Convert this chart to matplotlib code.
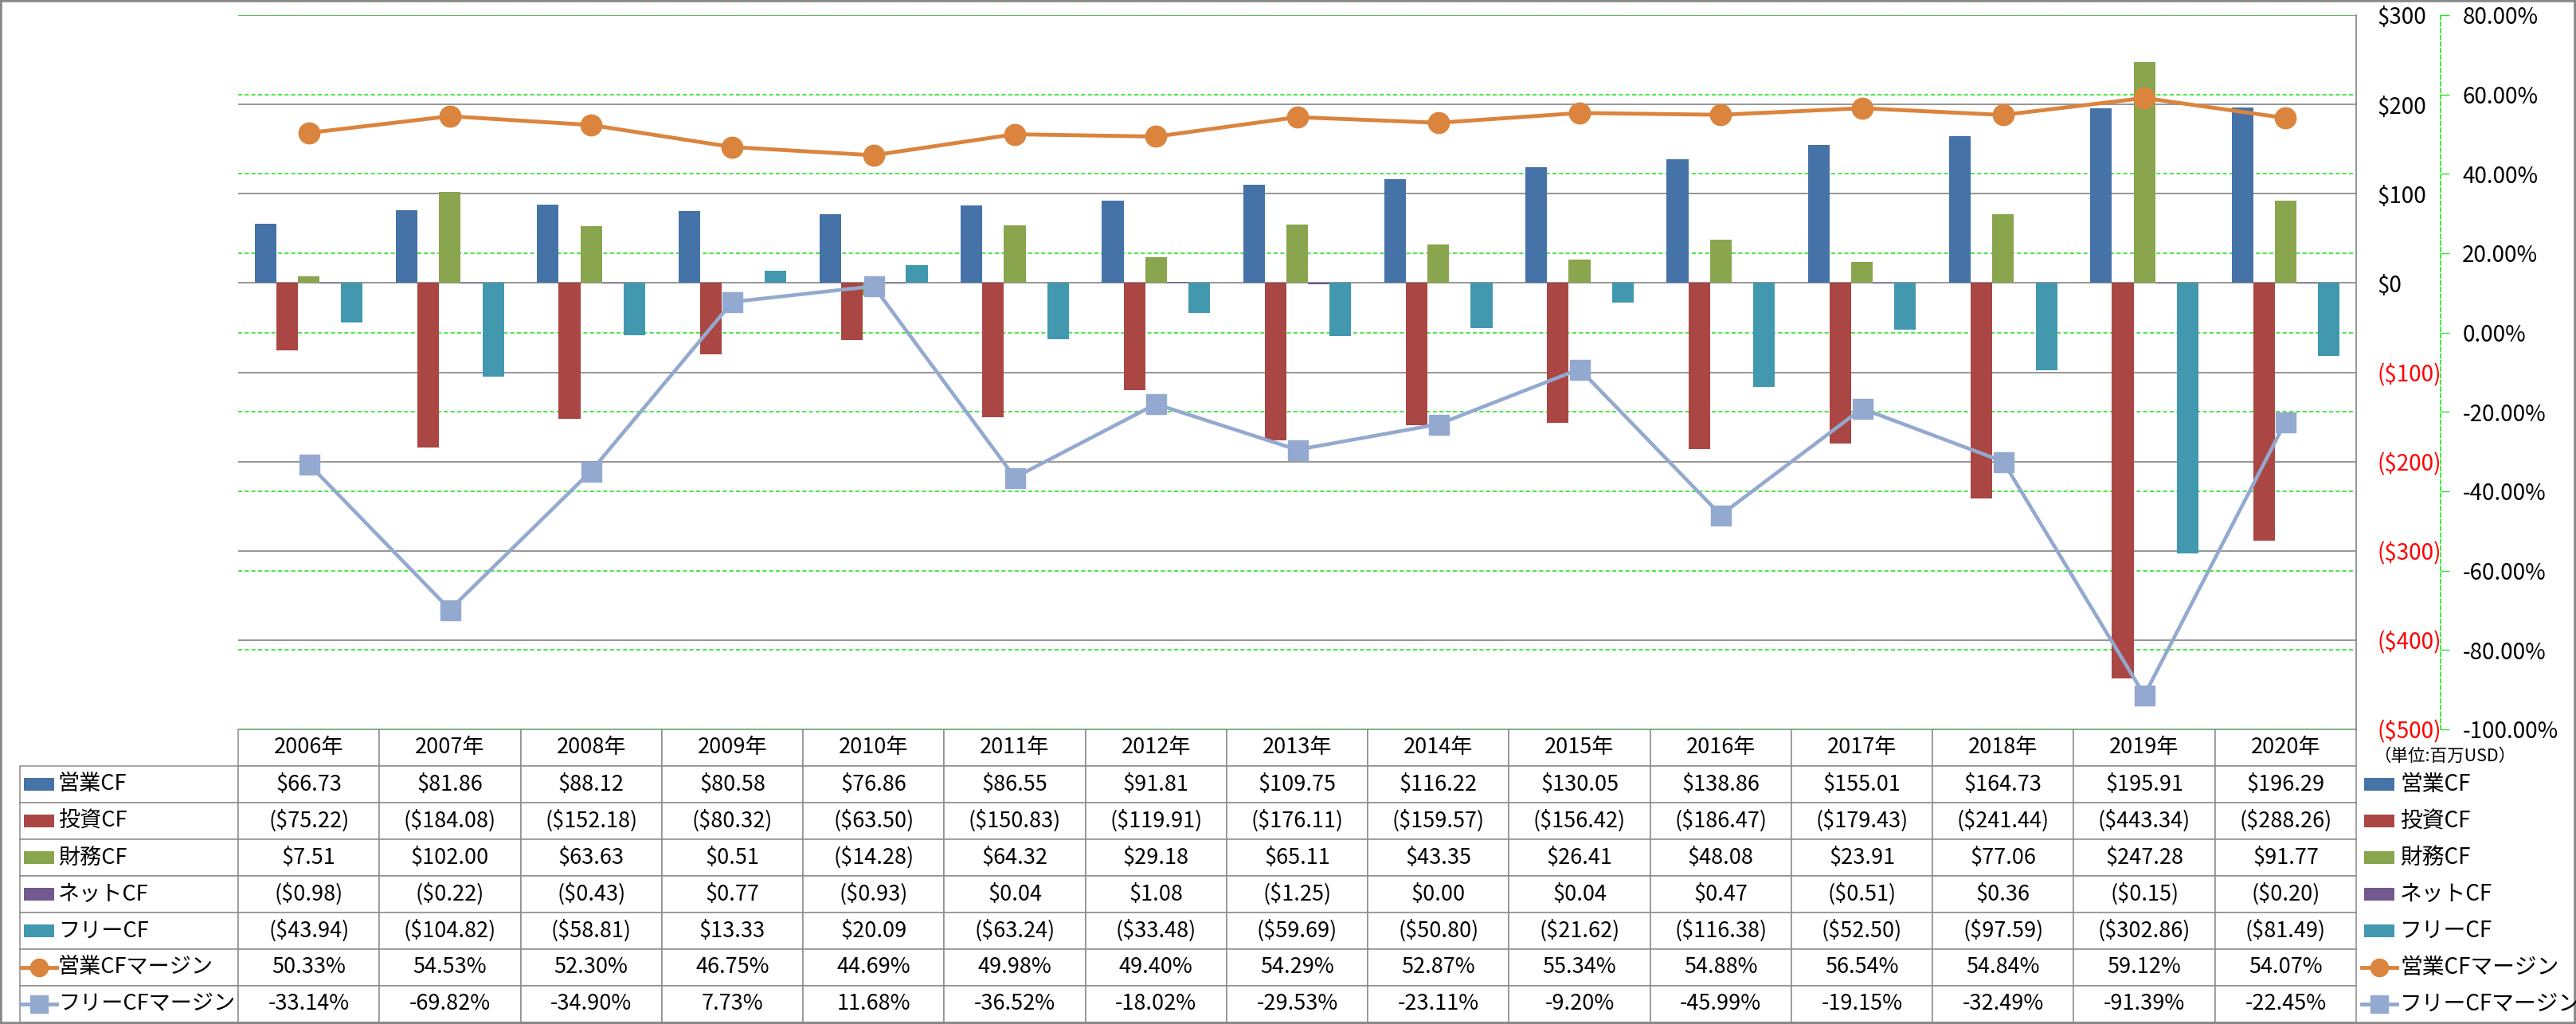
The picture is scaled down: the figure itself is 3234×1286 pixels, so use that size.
import matplotlib
matplotlib.use("Agg")
import matplotlib.pyplot as plt
import numpy as np
from matplotlib.patches import Rectangle
from matplotlib.lines import Line2D
from matplotlib.table import Table
from matplotlib import transforms

plt.rcParams['font.family'] = ['Noto Sans CJK JP', 'DejaVu Sans']

years = ["2006年", "2007年", "2008年", "2009年", "2010年", "2011年", "2012年", "2013年",
         "2014年", "2015年", "2016年", "2017年", "2018年", "2019年", "2020年"]
op_cf = [66.73, 81.86, 88.12, 80.58, 76.86, 86.55, 91.81, 109.75, 116.22, 130.05,
         138.86, 155.01, 164.73, 195.91, 196.29]
inv_cf = [-75.22, -184.08, -152.18, -80.32, -63.50, -150.83, -119.91, -176.11, -159.57,
          -156.42, -186.47, -179.43, -241.44, -443.34, -288.26]
fin_cf = [7.51, 102.00, 63.63, 0.51, -14.28, 64.32, 29.18, 65.11, 43.35, 26.41, 48.08,
          23.91, 77.06, 247.28, 91.77]
net_cf = [-0.98, -0.22, -0.43, 0.77, -0.93, 0.04, 1.08, -1.25, 0.00, 0.04, 0.47, -0.51,
          0.36, -0.15, -0.20]
free_cf = [-43.94, -104.82, -58.81, 13.33, 20.09, -63.24, -33.48, -59.69, -50.80, -21.62,
           -116.38, -52.50, -97.59, -302.86, -81.49]
op_margin = [50.33, 54.53, 52.30, 46.75, 44.69, 49.98, 49.40, 54.29, 52.87, 55.34, 54.88,
             56.54, 54.84, 59.12, 54.07]
free_margin = [-33.14, -69.82, -34.90, 7.73, 11.68, -36.52, -18.02, -29.53, -23.11, -9.20,
               -45.99, -19.15, -32.49, -91.39, -22.45]

bar_names = ["営業CF", "投資CF", "財務CF", "ネットCF", "フリーCF"]
line_names = ["営業CFマージン", "フリーCFマージン"]
bar_colors = ["#4572A7", "#AA4643", "#89A54E", "#71588F", "#4198AF"]
line_colors = ["#DB843D", "#93A9CF"]
green = "#22E622"
gray = "#8C8C8C"

W, H = 3234, 1286
fig = plt.figure(figsize=(W / 100, H / 100), dpi=100)
fig.patch.set_facecolor("white")

L, T, R, B = 299, 19, 2958, 916
ax = fig.add_axes([L / W, 1 - B / H, (R - L) / W, (B - T) / H])
ax2 = ax.twinx()

x = np.arange(len(years))
bw = 0.153
for i, (vals, c) in enumerate(zip([op_cf, inv_cf, fin_cf, net_cf, free_cf], bar_colors)):
    ax.bar(x + (i - 2) * bw, vals, bw, color=c, zorder=2, linewidth=0)

ax.set_xlim(-0.5, len(years) - 0.5)
ax.set_ylim(-500, 300)
pticks = list(range(-500, 301, 100))
ax.set_yticks(pticks, labels=[f"${v}" if v >= 0 else f"(${-v})" for v in pticks])
ax.yaxis.tick_right()
ax.tick_params(axis='y', length=0, pad=19, labelsize=20)
ax.set_xticks([])
for t, v in zip(ax.yaxis.get_major_ticks(), pticks):
    t.label2.set_color("red" if v < 0 else "black")
ax.yaxis.grid(True, color=gray, lw=1.3)
ax.set_axisbelow(True)
for s in ["left", "top", "bottom"]:
    ax.spines[s].set_visible(False)
ax.spines["right"].set_color(gray)
ax.spines["right"].set_linewidth(1.3)

ax2.set_ylim(-100, 80)
sticks = list(range(-100, 81, 20))
ax2.set_yticks(sticks, labels=[f"{v:.2f}%" for v in sticks])
ax2.tick_params(axis='y', length=8, width=1, color=green, pad=12, labelsize=20)
for t, v in zip(ax2.yaxis.get_major_ticks(), sticks):
    t.label2.set_color("red" if v < 0 else "black")
ax2.set_xticks([])
for s in ["left", "top", "bottom"]:
    ax2.spines[s].set_visible(False)
ax2.spines["right"].set_position(("outward", 76))
ax2.spines["right"].set_color(green)
ax2.spines["right"].set_linestyle((0, (3, 2)))
ax2.spines["right"].set_linewidth(1.2)

# secondary gridlines behind the bars
gtr = transforms.blended_transform_factory(ax.transAxes, ax2.transData)
for v in sticks:
    ax.plot([0, 1], [v, v], transform=gtr, color=green, lw=1.2,
            linestyle=(0, (3, 2)), zorder=1)

ax2.plot(x, op_margin, color=line_colors[0], lw=3.5, marker='o', ms=19, zorder=3)
ax2.plot(x, free_margin, color=line_colors[1], lw=3.3, marker='s', ms=18, zorder=3)

# data table
def money(v):
    return f"${v:,.2f}" if v >= 0 else f"(${-v:,.2f})"

rows = [op_cf, inv_cf, fin_cf, net_cf, free_cf]
row_texts = [[money(v) for v in r] for r in rows]
row_texts.append([f"{v:.2f}%" for v in op_margin])
row_texts.append([f"{v:.2f}%" for v in free_margin])
row_names = bar_names + line_names

lab_w = (L - 25) / (R - L)
tab_h = (1284 - B) / (B - T)
# bbox covers the year columns only; the label column sits to its left
tbl = Table(ax, bbox=[0, -tab_h, 1, tab_h])
rh = 1 / 8
for c, yr in enumerate(years):
    tbl.add_cell(0, c, width=1 / 15, height=rh, text=yr, loc='center')
for r, (name, vals) in enumerate(zip(row_names, row_texts), start=1):
    cell = tbl.add_cell(r, -1, width=lab_w, height=rh, text=name, loc='left')
    cell.PAD = 0.175
    for c, v in enumerate(vals):
        tbl.add_cell(r, c, width=1 / 15, height=rh, text=v, loc='center')
tbl.auto_set_font_size(False)
tbl.set_fontsize(19.5)
for cell in tbl.get_celld().values():
    cell.set_edgecolor(gray)
    cell.set_linewidth(1.1)
ax.add_table(tbl)

# legend keys (left in table, right as legend)
def fx(px):
    return px / W

def fy(py):
    return 1 - py / H

row_h = (1284 - B) / 8
for r, name in enumerate(row_names):
    yc = B + row_h * (r + 1.5)
    for x0, tx in [(30, None), (2968, 3013)]:
        if r < 5:
            fig.patches.append(Rectangle((fx(x0), fy(yc + 8)), fx(38), 16 / H,
                                         transform=fig.transFigure, color=bar_colors[r], lw=0))
        else:
            c = line_colors[r - 5]
            fig.add_artist(Line2D([fx(x0 - 3), fx(x0 + 41)], [fy(yc), fy(yc)],
                                  transform=fig.transFigure, color=c, lw=3.5))
            fig.add_artist(Line2D([fx(x0 + 19)], [fy(yc)], transform=fig.transFigure,
                                  color=c, marker='o' if r == 5 else 's', ms=16))
        if tx is not None:
            fig.text(fx(tx), fy(yc), name, fontsize=20, va='center', ha='left')

fig.text(fx(2980), fy(950), "（単位:百万USD）", fontsize=15.5, va='center', ha='left')

fig.patches.append(Rectangle((0, 0), 1, 1, transform=fig.transFigure, fill=False,
                             edgecolor="#888888", lw=4))

fig.savefig("out.png", dpi=100)
